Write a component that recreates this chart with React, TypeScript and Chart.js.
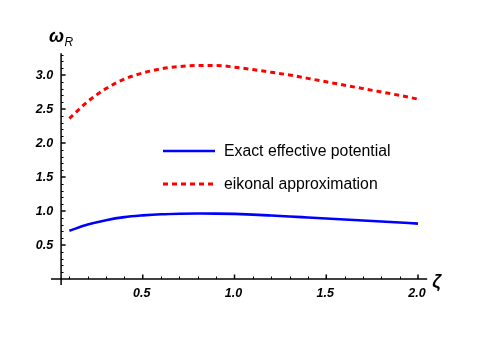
import React, { useEffect, useRef } from "react";
import { Chart, registerables } from "chart.js";

Chart.register(...registerables);

// ---- data ----
const zeta = [0.1, 0.2, 0.3, 0.4, 0.5, 0.6, 0.7, 0.8, 0.9, 1.0, 1.1, 1.2, 1.3, 1.4, 1.5, 1.6, 1.7, 1.8, 1.9, 2.0];
const exactOmega = [0.71, 0.80, 0.865, 0.91, 0.935, 0.952, 0.96, 0.963, 0.962, 0.957, 0.947, 0.934, 0.92, 0.905, 0.89, 0.875, 0.86, 0.845, 0.83, 0.815];
const eikonalOmega = [2.36, 2.61, 2.80, 2.94, 3.03, 3.09, 3.125, 3.14, 3.14, 3.115, 3.08, 3.04, 3.0, 2.95, 2.90, 2.85, 2.80, 2.75, 2.70, 2.645];
const seriesLabels = ["Exact effective potential", "eikonal approximation"];
const xMajorTicks = [0.5, 1.0, 1.5, 2.0];
const xTickLabels = ["0.5", "1.0", "1.5", "2.0"];
const yMajorTicks = [0.5, 1.0, 1.5, 2.0, 2.5, 3.0];
const yTickLabels = ["0.5", "1.0", "1.5", "2.0", "2.5", "3.0"];
const xAxisLabel = "ζ";
const yAxisLabel = "ω";
const yAxisSub = "R";

const X_MIN = 0;
const X_MAX = 2.05;
const Y_MIN = 0;
const Y_MAX = 3.32;
const Y_AXIS_AT = 0.055;

const FONT = "'Liberation Sans', Arial, sans-serif";

const axesPlugin = {
  id: "mmaAxes",
  beforeDatasetsDraw(chart: any) {
    const { ctx } = chart;
    const xs = chart.scales.x;
    const ys = chart.scales.y;
    const x0 = xs.getPixelForValue(Y_AXIS_AT);
    const y0 = ys.getPixelForValue(0);
    ctx.save();
    ctx.strokeStyle = "#000";
    ctx.lineWidth = 1.5;
    ctx.beginPath();
    ctx.moveTo(xs.getPixelForValue(X_MIN), y0);
    ctx.lineTo(xs.getPixelForValue(X_MAX), y0);
    ctx.stroke();
    ctx.beginPath();
    ctx.moveTo(x0, ys.getPixelForValue(-0.09));
    ctx.lineTo(x0, ys.getPixelForValue(Y_MAX));
    ctx.stroke();

    // minor ticks
    ctx.lineWidth = 1;
    for (let i = 1; i <= 20; i++) {
      const v = i / 10;
      if (i % 5 === 0) continue;
      const px = Math.round(xs.getPixelForValue(v)) + 0.5;
      ctx.beginPath();
      ctx.moveTo(px, y0);
      ctx.lineTo(px, y0 - 2.5);
      ctx.stroke();
    }
    for (let i = 1; i <= 33; i++) {
      const v = i / 10;
      if (i % 5 === 0) continue;
      const py = Math.round(ys.getPixelForValue(v)) + 0.5;
      ctx.beginPath();
      ctx.moveTo(x0, py);
      ctx.lineTo(x0 + 2.5, py);
      ctx.stroke();
    }
    // major ticks
    ctx.lineWidth = 1.5;
    xMajorTicks.forEach((v) => {
      const px = xs.getPixelForValue(v);
      ctx.beginPath();
      ctx.moveTo(px, y0);
      ctx.lineTo(px, y0 - 4.5);
      ctx.stroke();
    });
    yMajorTicks.forEach((v) => {
      const py = ys.getPixelForValue(v);
      ctx.beginPath();
      ctx.moveTo(x0, py);
      ctx.lineTo(x0 + 4.5, py);
      ctx.stroke();
    });

    // tick labels
    ctx.fillStyle = "#000";
    ctx.font = `italic bold 12.5px ${FONT}`;
    ctx.textAlign = "center";
    ctx.textBaseline = "middle";
    xMajorTicks.forEach((v, i) => {
      ctx.fillText(xTickLabels[i], xs.getPixelForValue(v) - 1, y0 + 14.5);
    });
    ctx.textAlign = "right";
    yMajorTicks.forEach((v, i) => {
      ctx.fillText(yTickLabels[i], x0 - 8, ys.getPixelForValue(v) + 0.5);
    });

    // axis labels
    ctx.textAlign = "left";
    ctx.textBaseline = "alphabetic";
    ctx.font = `italic bold 18px ${FONT}`;
    ctx.fillText(xAxisLabel, xs.getPixelForValue(X_MAX) + 5, y0 + 8);
    ctx.fillText(yAxisLabel, 49, 42);
    const w = ctx.measureText(yAxisLabel).width;
    ctx.font = `italic 12px ${FONT}`;
    ctx.fillText(yAxisSub, 49 + w + 0.5, 46);
    ctx.restore();
  },
  afterDatasetsDraw(chart: any) {
    const { ctx } = chart;
    const ds = chart.data.datasets;
    const rows = [151, 184];
    ctx.save();
    ds.forEach((d: any, i: number) => {
      const y = rows[i];
      ctx.strokeStyle = d.borderColor;
      ctx.lineWidth = d.borderWidth;
      ctx.setLineDash(d.borderDash || []);
      ctx.beginPath();
      ctx.moveTo(163, y);
      ctx.lineTo(215, y);
      ctx.stroke();
      ctx.setLineDash([]);
      ctx.fillStyle = "#000";
      ctx.font = `15.8px ${FONT}`;
      ctx.textAlign = "left";
      ctx.textBaseline = "middle";
      ctx.fillText(d.label, 224, y + 1);
    });
    ctx.restore();
  },
};

export default function App() {
  const ref = useRef<HTMLCanvasElement | null>(null);
  useEffect(() => {
    if (!ref.current) return;
    const chart = new Chart(ref.current, {
      type: "line",
      data: {
        datasets: [
          {
            label: seriesLabels[0],
            data: zeta.map((z, i) => ({ x: z, y: exactOmega[i] })),
            borderColor: "#0000ff",
            borderWidth: 2.6,
            pointRadius: 0,
            cubicInterpolationMode: "monotone",
            fill: false,
          },
          {
            label: seriesLabels[1],
            data: zeta.map((z, i) => ({ x: z, y: eikonalOmega[i] })),
            borderColor: "#ff0000",
            borderWidth: 3,
            borderDash: [5, 4],
            pointRadius: 0,
            cubicInterpolationMode: "monotone",
            fill: false,
          },
        ],
      },
      options: {
        animation: false,
        responsive: false,
        devicePixelRatio: 1,
        layout: { padding: { left: 51, right: 480 - 51 - 2.05 * 183.5, top: 279 - 3.32 * 68, bottom: 338 - 279 } },
        plugins: { legend: { display: false }, tooltip: { enabled: false } },
        scales: {
          x: { type: "linear", min: X_MIN, max: X_MAX, display: false },
          y: { type: "linear", min: Y_MIN, max: Y_MAX, display: false },
        },
      },
      plugins: [axesPlugin],
    } as any);
    return () => chart.destroy();
  }, []);
  return (
    <div style={{ position: "absolute", left: 0, top: 0, width: 480, height: 338, background: "#fff" }}>
      <canvas ref={ref} width={480} height={338} style={{ width: 480, height: 338, display: "block" }} />
    </div>
  );
}
